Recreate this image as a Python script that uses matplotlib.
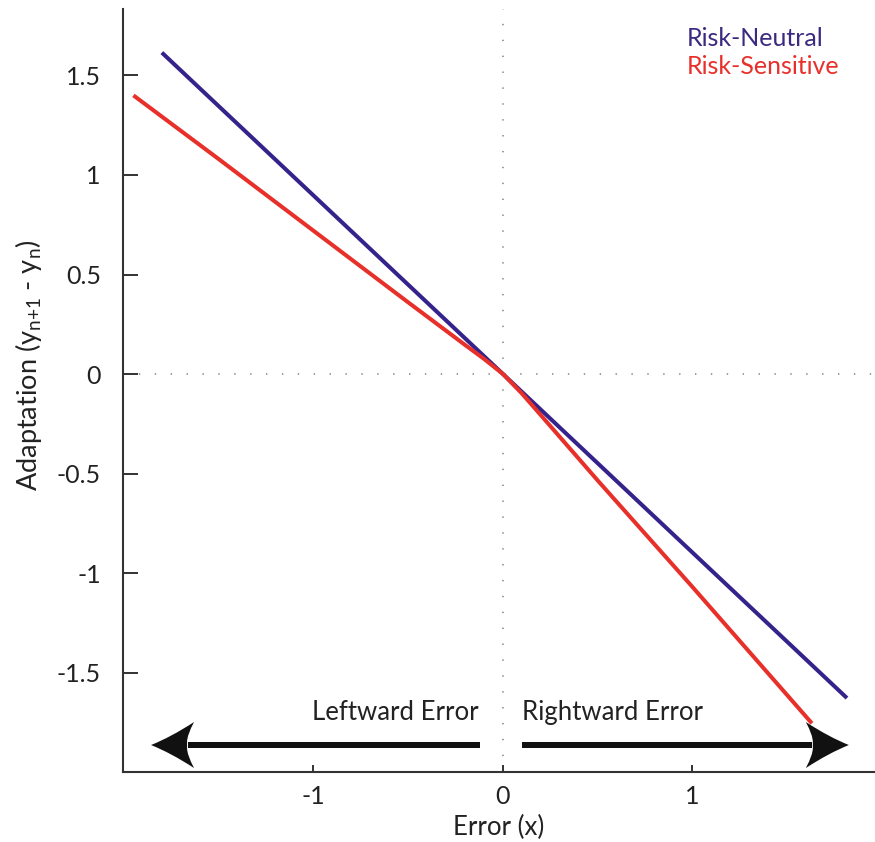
import numpy as np
import matplotlib
matplotlib.use("Agg")
import matplotlib.pyplot as plt
from matplotlib.path import Path
from matplotlib.patches import PathPatch
import matplotlib.transforms as mtransforms

plt.rcParams['font.family'] = ['Lato', 'DejaVu Sans']
plt.rcParams['mathtext.fontset'] = 'custom'
plt.rcParams['mathtext.rm'] = 'Lato'
plt.rcParams['mathtext.it'] = 'Lato'

# Adaptation as a function of error for the two learners
neutral_x = [-1.80, 0.0, 1.815]
neutral_y = [1.615, 0.0, -1.628]

sensitive_x = [-1.95, -1.5, -1.0, -0.5, -0.2, -0.1, 0.0, 0.1, 0.2, 0.5, 1.0, 1.63]
sensitive_y = [1.40, 1.08, 0.72, 0.36, 0.146, 0.076, 0.0, -0.098, -0.207, -0.535, -1.07, -1.755]

x_ticks = [-1, 0, 1]
x_ticklabels = ['-1', '0', '1']
y_ticks = [-1.5, -1, -0.5, 0, 0.5, 1, 1.5]
y_ticklabels = ['-1.5', '-1', '-0.5', '0', '0.5', '1', '1.5']

series_names = ['Risk-Neutral', 'Risk-Sensitive']
BLUE = '#35228a'
RED = '#e8302a'
AXIS = '#333333'
TEXT = '#222222'

fig = plt.figure(figsize=(8.75, 8.42), dpi=100)
ax = fig.add_axes([123 / 875, 70.5 / 842, 1 - 123 / 875, (771.5 - 9) / 842])
ax.set_xlim(-2.005, 1.963)
ax.set_ylim(-1.997, 1.834)

# zero reference lines
dots = dict(color='#808080', lw=1.1, linestyle=(0, (0.9, 9.5)), zorder=1)
ax.axhline(0, **dots)
ax.axvline(0, **dots)

ax.plot(neutral_x, neutral_y, color=BLUE, lw=2.9, solid_capstyle='butt', zorder=3)
ax.plot(sensitive_x, sensitive_y, color=RED, lw=2.9, solid_capstyle='butt', zorder=3)

# legend as coloured text
legend_x = (687 - 123) / (875 - 123)
ax.text(legend_x, 1 - (38 - 9) / 762.5, series_names[0], transform=ax.transAxes,
        color='#3b2a80', fontsize=18, ha='left', va='center')
ax.text(legend_x, 1 - (66 - 9) / 762.5, series_names[1], transform=ax.transAxes,
        color=RED, fontsize=18, ha='left', va='center')

# spines and ticks
for side in ['top', 'right']:
    ax.spines[side].set_visible(False)
for side in ['left', 'bottom']:
    ax.spines[side].set_linewidth(1.5)
    ax.spines[side].set_color(AXIS)

ax.set_xticks(x_ticks, x_ticklabels)
ax.set_yticks(y_ticks, y_ticklabels)
ax.tick_params(axis='y', direction='in', length=10.8, width=1.4, color=AXIS,
               labelsize=18, pad=16, labelcolor=TEXT)
ax.tick_params(axis='x', direction='in', length=5, width=1.4, color=AXIS,
               labelsize=18, pad=10, labelcolor=TEXT)

ax.set_xlabel('Error (x)', fontsize=18.5, color=TEXT, labelpad=5)
ax.set_ylabel(r'Adaptation (y$_{\mathregular{n{+}1}}$ - y$_{\mathregular{n}}$)',
              fontsize=19.5, color=TEXT)
ax.yaxis.set_label_coords((29 - 123) / 752, (771.5 - 365) / 762.5)
ax.yaxis.label.set_va('center')


# direction arrows along the bottom
def arrow(x_tail, x_tip, y):
    direction = 1 if x_tip > x_tail else -1
    px = 72.0 / 100.0  # points per pixel
    # head outline in pixels, tip at origin, pointing toward +x
    head_len = 43
    back = 36
    half_w = 23
    shaft = 3.0
    verts = [
        (0, 0),
        (-20, 8), (-head_len, half_w),
        (-back, 10), (-back, shaft),
        (-back, -shaft),
        (-back, -10), (-head_len, -half_w),
        (-20, -8), (0, 0),
        (0, 0),
    ]
    codes = [Path.MOVETO,
             Path.CURVE3, Path.CURVE3,
             Path.CURVE3, Path.CURVE3,
             Path.LINETO,
             Path.CURVE3, Path.CURVE3,
             Path.CURVE3, Path.CURVE3,
             Path.CLOSEPOLY]
    verts = [(direction * vx / 100.0, vy / 100.0) for vx, vy in verts]
    tr = fig.dpi_scale_trans + mtransforms.ScaledTranslation(x_tip, y, ax.transData)
    ax.add_patch(PathPatch(Path(verts, codes), transform=tr, facecolor='#111111',
                           edgecolor='none', zorder=4, clip_on=False))
    # shaft from tail to the back of the head
    disp_tip = ax.transData.transform((x_tip, y))
    disp_back = disp_tip - np.array([direction * (back + 1), 0])
    back_x = ax.transData.inverted().transform(disp_back)[0]
    ax.plot([x_tail, back_x], [y, y], color='#111111', lw=2 * shaft * px,
            solid_capstyle='butt', zorder=4)


arrow_y = -1.864
arrow(-0.12, -1.857, arrow_y)
arrow(0.10, 1.825, arrow_y)
ax.text(-0.13, -1.70, 'Leftward Error', fontsize=18.5, ha='right', va='center', color=TEXT)
ax.text(0.10, -1.70, 'Rightward Error', fontsize=18.5, ha='left', va='center', color=TEXT)

fig.savefig('out.png', dpi=100, facecolor='white')
